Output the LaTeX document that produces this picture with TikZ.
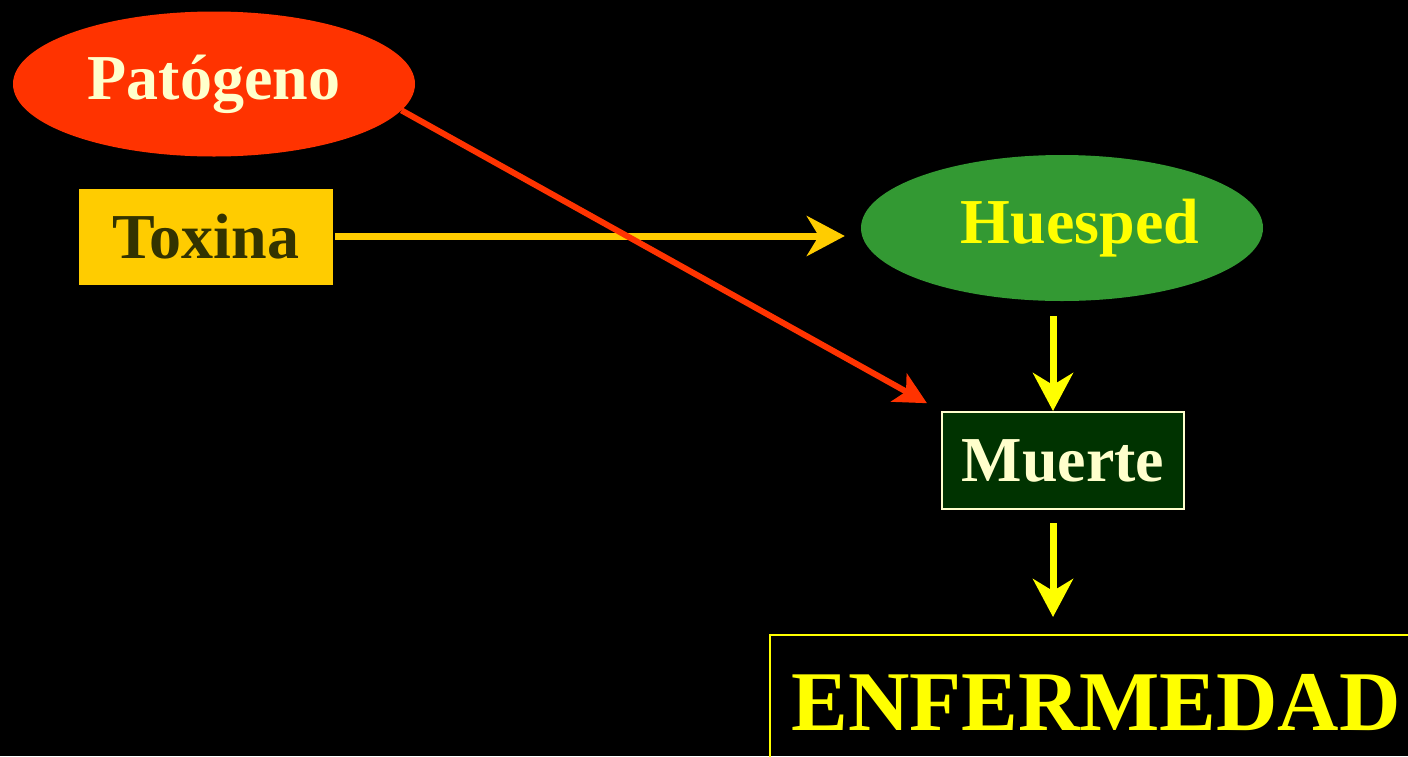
\documentclass[tikz,border=0pt]{standalone}
\usepackage{fontspec}
\setmainfont{Liberation Serif}
\usetikzlibrary{arrows.meta,shapes.geometric}
\definecolor{patred}{HTML}{FF3300}
\definecolor{toxy}{HTML}{FFCC00}
\definecolor{toxtext}{HTML}{333300}
\definecolor{huegreen}{HTML}{339933}
\definecolor{muegreen}{HTML}{003300}
\definecolor{cream}{HTML}{FFFFCC}
\definecolor{yel}{HTML}{FFFF00}
\tikzset{
  lbl/.style={font=\fontsize{64}{70}\selectfont\bfseries},
  oval/.style={ellipse, inner sep=0pt, minimum width=402pt, minimum height=145pt, lbl},
  boxnode/.style={rectangle, inner sep=0pt, lbl},
  bigarrow/.style={line width=7pt, -{Stealth[length=38pt,width=40pt,inset=12pt]}},
  redarrow/.style={line width=6pt, patred, -{Stealth[length=32pt,width=32pt,inset=8pt]}},
}
\begin{document}
\begin{tikzpicture}[x=1pt,y=-1pt]
\clip (0,0) rectangle (1408,756);
\fill[black] (0,0) rectangle (1408,756);
\node[oval, fill=patred, text=cream] (pat) at (214,84) {Patógeno};
\node[boxnode, fill=toxy, text=toxtext, minimum width=254pt, minimum height=96pt] (tox) at (206,237) {Toxina};
\node[oval, fill=huegreen, text=yel, minimum height=146pt] (hue) at (1062,228) {\hspace*{36pt}Huesped};
\node[boxnode, fill=muegreen, text=cream, draw=cream, line width=2pt, minimum width=242pt, minimum height=97pt] (mue) at (1063,460.5) {Muerte};
\node[rectangle, draw=yel, line width=2pt, text=yel, inner sep=0pt, minimum width=652pt, minimum height=136pt, font=\fontsize{85}{90}\selectfont\bfseries] (enf) at (1096,703) {ENFERMEDAD};
\draw[bigarrow, toxy, shorten <=2pt, shorten >=16pt] ([yshift=1pt]tox.east) -- ([yshift=1pt]tox.east -| hue.west);
\draw[redarrow, shorten >=16pt] (pat.-8.6) -- (mue.north west);
\draw[bigarrow, yel, shorten <=15pt] ([xshift=-9pt]hue.south) -- ([xshift=-10pt]mue.north);
\draw[bigarrow, yel, shorten <=13pt, shorten >=17pt] ([xshift=-10pt]mue.south) -- ([xshift=-43pt]enf.north);
\end{tikzpicture}
\end{document}
